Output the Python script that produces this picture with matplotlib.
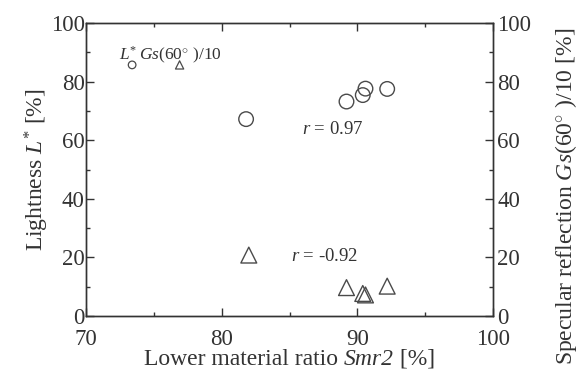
import matplotlib
matplotlib.use("Agg")
import matplotlib.pyplot as plt
from matplotlib.ticker import MultipleLocator
from matplotlib.offsetbox import TextArea, HPacker, AnchoredOffsetbox

plt.rcParams["font.family"] = "Liberation Serif"
plt.rcParams["mathtext.fontset"] = "custom"
plt.rcParams["mathtext.rm"] = "Liberation Serif"
plt.rcParams["mathtext.it"] = "Liberation Serif:italic"

# ---------- DATA ----------
smr2_L = [81.8, 89.2, 90.4, 90.6, 92.2]
lightness = [67.2, 73.2, 75.4, 77.6, 77.5]

smr2_G = [82.0, 89.2, 90.4, 90.6, 92.2]
gloss = [20.8, 9.7, 7.7, 7.2, 10.2]

legend_x = [73.4, 76.9]
legend_y = 85.7

r_L = "0.97"
r_G = "-0.92"

INK = "#333333"
MK = "#4a4a4a"

# ---------- FIGURE ----------
fig = plt.figure(figsize=(5.79, 3.74), dpi=100)
ax = fig.add_axes([0.1485, 0.155, 0.703, 0.7835])
ax2 = ax.twinx()

ax.scatter(smr2_L, lightness, s=110, marker="o", facecolors="none",
           edgecolors=MK, linewidths=1.0, zorder=3)
ax2.scatter(smr2_G, gloss, s=130, marker="^", facecolors="none",
            edgecolors=MK, linewidths=1.0, zorder=3)

# legend drawn by hand
ax.scatter([legend_x[0]], [legend_y], s=30, marker="o", facecolors="none",
           edgecolors=MK, linewidths=0.9)
ax.scatter([legend_x[1]], [legend_y], s=35, marker="^", facecolors="none",
           edgecolors=MK, linewidths=0.9)
ax.text(72.4, 89.0, r"$L^{*}$", fontsize=12.5, color=INK, ha="left", va="center")
ax.text(73.9, 89.0, r"$Gs$(60$^{\circ}$ )/10", fontsize=12.5, color=INK,
        ha="left", va="center")

ax.text(85.9, 63.5, r"$r$ = " + r_L, fontsize=13.5, color=INK,
        ha="left", va="center")
ax.text(85.1, 20.2, r"$r$ = " + r_G, fontsize=13.5, color=INK,
        ha="left", va="center")

# ---------- AXES ----------
for a in (ax, ax2):
    a.set_xlim(70, 100)
    a.set_ylim(0, 100)
    a.yaxis.set_major_locator(MultipleLocator(20))
    a.yaxis.set_minor_locator(MultipleLocator(10))
    for sp in a.spines.values():
        sp.set_color(INK)
        sp.set_linewidth(1.0)
    a.tick_params(which="both", direction="in", colors=INK, labelsize=16.5,
                  width=1.0)
    a.tick_params(which="major", length=6)
    a.tick_params(which="minor", length=3)

ax.tick_params(axis="y", pad=1)
ax2.tick_params(axis="y", pad=3)

ax.xaxis.set_major_locator(MultipleLocator(10))
ax.xaxis.set_minor_locator(MultipleLocator(5))
ax.tick_params(axis="x", which="both", top=True, pad=9)

# x label with an italic "Smr2" (digit included)
lab_style = dict(fontsize=17, color=INK, family="Liberation Serif")
parts = [
    TextArea("Lower material ratio ", textprops=lab_style),
    TextArea("Smr2", textprops=dict(lab_style, style="italic")),
    TextArea(" [%]", textprops=lab_style),
]
xlab = AnchoredOffsetbox(loc="center", child=HPacker(children=parts, pad=0, sep=0),
                         frameon=False, bbox_to_anchor=(0.5, -0.147),
                         bbox_transform=ax.transAxes, pad=0, borderpad=0)
ax.add_artist(xlab)

ax.set_ylabel(r"Lightness $L^{*}$ [%]", fontsize=17, color=INK, labelpad=0)
ax2.set_ylabel(r"Specular reflection $Gs$(60$^{\circ}$ )/10 [%]", fontsize=17,
               color=INK, va="center")
ax2.yaxis.set_label_coords(1.18, 0.41)

fig.savefig("out.png", dpi=100)
